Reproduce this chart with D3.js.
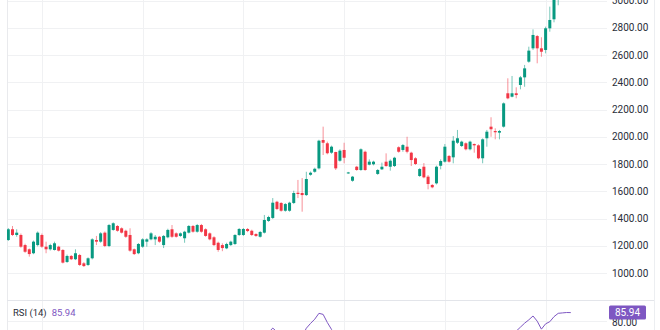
<!DOCTYPE html>
<html>
<head>
<meta charset="utf-8">
<script src="https://cdn.jsdelivr.net/npm/d3@7"></script>
<style>
  html, body { margin: 0; padding: 0; background: #ffffff; }
  svg { display: block; font-family: Roboto, "Liberation Sans", sans-serif; }
</style>
</head>
<body>
<svg id="chart" width="660" height="330"></svg>
<script>
// Daily OHLC candles (index 1..135)
const opens = [1242,1321,1279,1279,1205,1174,1145,1205,1279,1193,1174,1169,1193,1169,1081,1125,1101,1132,1071,1059,
  1108,1242,1230,1296,1198,1316,1345,1328,1310,1279,1174,1145,1193,1230,1247,1247,1266,1205,1262,1321,
  1291,1272,1255,1296,1345,1303,1352,1321,1291,1262,1222,1205,1181,1205,1213,1279,1279,1323,1310,1286,
  1266,1296,1382,1404,1523,1514,1457,1457,1514,1589,1587,1572,1721,1743,1768,1976,1952,1883,1888,1824,
  1903,1732,1677,1780,1756,1890,1795,1798,1727,1761,1817,1780,1785,1923,1903,1927,1883,1842,1712,1780,
  1707,1646,1658,1787,1817,1859,1849,1956,1932,1952,1908,1947,1937,1842,1989,2074,2042,2030,2074,2319,
  2294,2319,2380,2436,2551,2649,2739,2649,2637,2796,2862,3040,3090,3150,3180];
const highs = [1330,1345,1321,1290,1215,1180,1238,1305,1290,1230,1215,1230,1200,1175,1135,1132,1174,1140,1080,1115,
  1255,1272,1300,1305,1360,1372,1352,1335,1318,1328,1180,1220,1255,1255,1300,1279,1272,1279,1325,1352,
  1298,1298,1310,1352,1352,1360,1360,1328,1298,1270,1230,1218,1222,1237,1285,1330,1330,1330,1318,1292,
  1308,1426,1420,1550,1530,1520,1513,1523,1604,1683,1697,1743,1745,1773,1978,2074,1964,1935,1890,1908,
  1956,1742,1712,1786,1915,1898,1834,1824,1763,1810,1878,1834,1853,1930,1947,2000,1890,1850,1770,1807,
  1719,1653,1788,1834,1947,1866,2005,2050,1971,1959,1971,1950,1945,1988,2050,2143,2062,2050,2252,2429,
  2446,2363,2446,2527,2661,2788,2747,2730,2808,2955,3050,3110,3170,3220,3250];
const lows = [1235,1272,1266,1185,1148,1120,1138,1195,1185,1145,1165,1165,1158,1070,1074,1095,1095,1052,1044,1052,
  1100,1205,1222,1190,1190,1310,1303,1290,1258,1156,1132,1138,1185,1193,1240,1205,1222,1183,1255,1258,
  1260,1265,1222,1290,1296,1296,1296,1266,1240,1198,1156,1160,1175,1198,1205,1272,1272,1300,1272,1265,
  1260,1290,1375,1396,1462,1450,1450,1450,1506,1550,1450,1565,1714,1736,1760,1866,1871,1875,1756,1817,
  1805,1728,1670,1750,1750,1750,1790,1790,1720,1756,1780,1751,1778,1883,1890,1878,1785,1793,1705,1695,
  1614,1622,1650,1761,1810,1810,1805,1947,1925,1900,1900,1883,1835,1805,1927,2000,1981,1981,2067,2275,
  2289,2282,2348,2367,2543,2637,2539,2587,2612,2771,2840,2965,3060,3120,3160];
const closes = [1321,1279,1296,1193,1156,1139,1230,1296,1193,1174,1205,1218,1164,1076,1125,1101,1145,1059,1051,1108,
  1247,1230,1291,1198,1352,1365,1310,1296,1266,1164,1139,1213,1247,1247,1291,1266,1230,1272,1316,1266,
  1266,1291,1303,1345,1303,1352,1303,1272,1247,1205,1169,1183,1213,1230,1279,1323,1323,1308,1279,1272,
  1301,1389,1411,1516,1470,1457,1506,1516,1587,1580,1572,1690,1736,1765,1971,1956,1879,1927,1768,1898,
  1846,1738,1707,1756,1908,1756,1817,1817,1756,1780,1785,1824,1846,1890,1939,1890,1829,1800,1763,1702,
  1653,1629,1780,1822,1927,1817,1971,1989,1964,1908,1964,1937,1842,1981,2037,2055,2033,2042,2245,2282,
  2319,2306,2436,2502,2632,2747,2649,2624,2796,2857,3030,3090,3150,3180,3230];

// RSI (14) per candle
const rsi14 = [55,52,54,45,40,37,46,53,45,43,47,50,46,36,41,39,45,37,35,42,
  56,55,60,50,62,64,60,57,53,42,39,47,52,54,58,56,52,57,61,55,
  53,55,59,63,58,62,57,52,48,43,38,40,44,47,53,59,59,57,53,51,
  56,66,71,74.3,71.5,67,69,70,71,69,68,74.2,77.8,81,85.4,84.6,78.5,73.3,66,67,
  63,54,51,55,63,57,59,59,55,57,58,60,62,66,67,65,61,58,52,50,
  46,45,54,57,63,60,66,67,65,62,65,64,58,65,68,69,68,68,72,70.5,
  71,72,75,78,80.5,83.4,79.5,73.5,77.5,79.1,82.9,85.4,85.7,86,85.94];

// Scale ticks and vertical grid positions (candle index)
const priceTicks = [1000,1200,1400,1600,1800,2000,2200,2400,2600,2800,3000];
const gridCandles = [9,33,57,81,105,129];
const rsiTicks = [80];
const rsiLast = 85.94;

const W = 660, H = 330;
const plotLeft = 7, plotRight = 607, axisRight = 654;
const pricePaneBottom = 300.5;

const svg = d3.select("#chart");
svg.append("rect").attr("width", W).attr("height", H).attr("fill", "#ffffff");

const x = d3.scaleLinear().domain([1, 135]).range([8.3, 570.8]);
const y = d3.scaleLinear().domain([1000, 3000]).range([273, 0.5]);
const yr = d3.scaleLinear().domain([80, 85.94]).range([320.5, 312.6]);

const defs = svg.append("defs");
defs.append("clipPath").attr("id", "priceClip")
  .append("rect").attr("x", plotLeft).attr("y", 0).attr("width", plotRight - plotLeft).attr("height", pricePaneBottom);
defs.append("clipPath").attr("id", "rsiClip")
  .append("rect").attr("x", plotLeft).attr("y", pricePaneBottom + 0.5).attr("width", plotRight - plotLeft).attr("height", H - pricePaneBottom);

const gridColor = "#f0f1f3";

// horizontal price grid
svg.append("g").selectAll("line").data(priceTicks).join("line")
  .attr("x1", plotLeft).attr("x2", plotRight)
  .attr("y1", d => Math.round(y(d)) + 0.5).attr("y2", d => Math.round(y(d)) + 0.5)
  .attr("stroke", gridColor).attr("stroke-width", 1);

// RSI grid
svg.append("g").selectAll("line").data(rsiTicks).join("line")
  .attr("x1", plotLeft).attr("x2", plotRight)
  .attr("y1", d => Math.round(yr(d)) + 0.5).attr("y2", d => Math.round(yr(d)) + 0.5)
  .attr("stroke", gridColor).attr("stroke-width", 1);

// vertical grid through both panes
svg.append("g").selectAll("line").data(gridCandles).join("line")
  .attr("x1", d => Math.round(x(d)) + 0.5).attr("x2", d => Math.round(x(d)) + 0.5)
  .attr("y1", 0).attr("y2", H)
  .attr("stroke", gridColor).attr("stroke-width", 1);

// pane borders
svg.append("line").attr("x1", plotLeft + 0.5).attr("x2", plotLeft + 0.5).attr("y1", 0).attr("y2", H)
  .attr("stroke", "#e9eaed");
svg.append("line").attr("x1", plotLeft).attr("x2", axisRight).attr("y1", pricePaneBottom).attr("y2", pricePaneBottom)
  .attr("stroke", "#e3e5ea");
svg.append("line").attr("x1", axisRight + 0.5).attr("x2", axisRight + 0.5).attr("y1", 0).attr("y2", H)
  .attr("stroke", "#eceef1");

// candles
const up = "#089981", down = "#f23645";
const candles = d3.range(opens.length).map(i => ({
  i: i + 1, o: opens[i], h: highs[i], l: lows[i], c: closes[i]
}));
const gC = svg.append("g").attr("clip-path", "url(#priceClip)");
const bodyW = 3;

gC.selectAll("line.wick").data(candles).join("line")
  .attr("class", "wick")
  .attr("x1", d => x(d.i)).attr("x2", d => x(d.i))
  .attr("y1", d => y(d.h)).attr("y2", d => y(d.l))
  .attr("stroke", d => d.c >= d.o ? up : down)
  .attr("stroke-opacity", 0.55)
  .attr("stroke-width", 1);

gC.selectAll("rect.body").data(candles).join("rect")
  .attr("class", "body")
  .attr("x", d => x(d.i) - bodyW / 2)
  .attr("width", bodyW)
  .attr("y", d => y(Math.max(d.o, d.c)))
  .attr("height", d => Math.max(1, Math.abs(y(d.o) - y(d.c))))
  .attr("fill", d => d.c >= d.o ? up : down);

// price scale labels
svg.append("g").selectAll("text").data(priceTicks).join("text")
  .attr("x", 612).attr("y", d => y(d))
  .attr("dy", "0.35em")
  .attr("font-size", 10)
  .attr("fill", "#2a2e39")
  .text(d => d3.format(".2f")(d));

// RSI line
const rsiLine = d3.line().x((d, i) => x(i + 1)).y(d => yr(d));
svg.append("path")
  .attr("clip-path", "url(#rsiClip)")
  .attr("d", rsiLine(rsi14))
  .attr("fill", "none")
  .attr("stroke", "#7e57c2")
  .attr("stroke-width", 1);

// RSI scale label and last-value tag
svg.append("g").selectAll("text").data(rsiTicks).join("text")
  .attr("x", 612).attr("y", d => yr(d) + 2)
  .attr("dy", "0.35em")
  .attr("font-size", 10)
  .attr("fill", "#2a2e39")
  .text(d => d3.format(".2f")(d));

const tagY = yr(rsiLast);
svg.append("rect")
  .attr("x", 609).attr("y", tagY - 7).attr("width", 37).attr("height", 14).attr("rx", 1.5)
  .attr("fill", "#7e57c2");
svg.append("text")
  .attr("x", 627.5).attr("y", tagY).attr("dy", "0.35em")
  .attr("text-anchor", "middle").attr("font-size", 10).attr("fill", "#ffffff")
  .text(d3.format(".2f")(rsiLast));

// legend
const legend = svg.append("text").attr("x", 13).attr("y", 313).attr("dy", "0.35em").attr("font-size", 9.5);
legend.append("tspan").attr("fill", "#2a2e39").text("RSI (14)");
legend.append("tspan").attr("dx", 5).attr("fill", "#7e57c2").text(d3.format(".2f")(rsiLast));
</script>
</body>
</html>
